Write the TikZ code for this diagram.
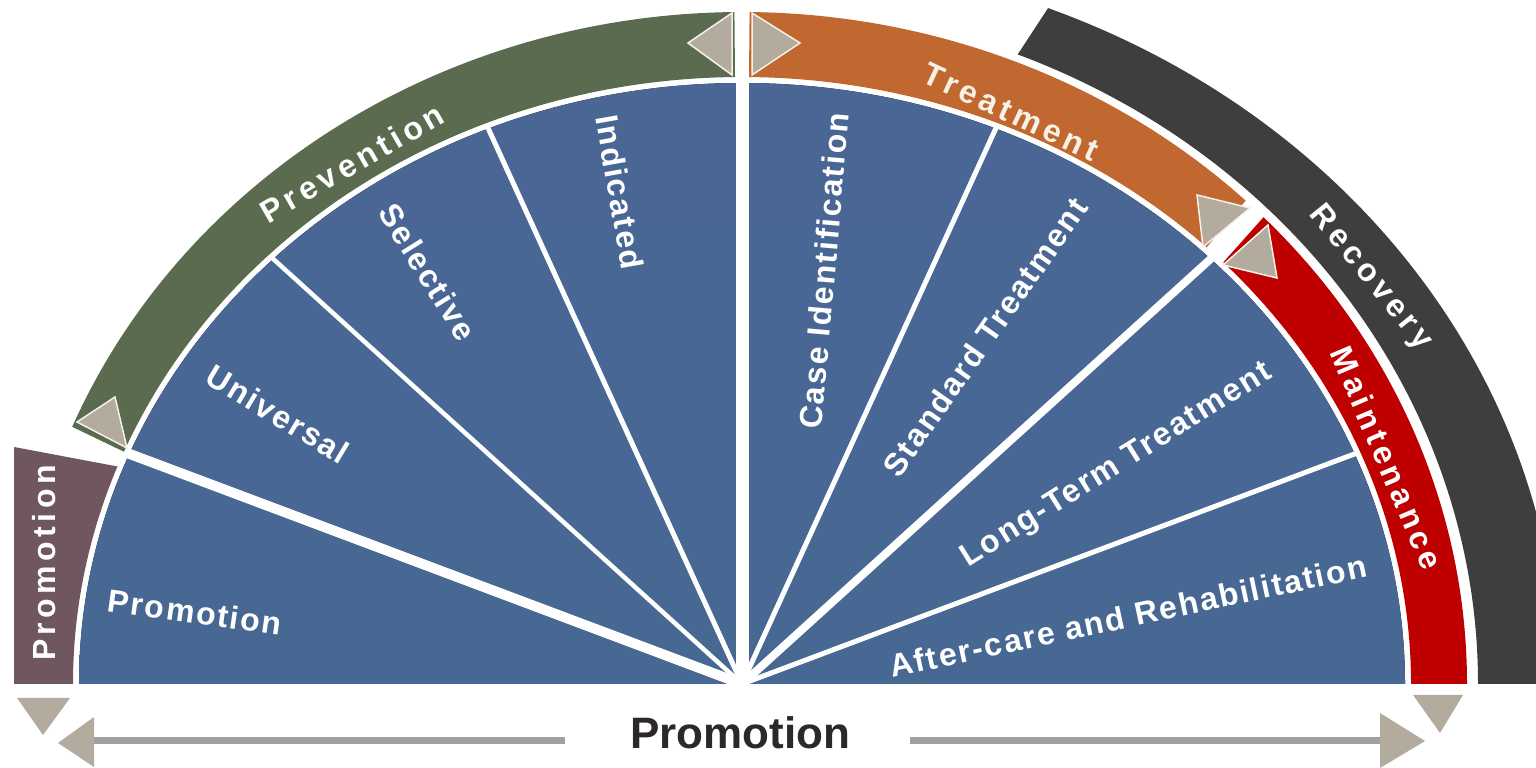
\documentclass[tikz,border=0pt]{standalone}
\usepackage{fontspec}
\setmainfont{Liberation Sans}
\newfontfamily\sectfont{Liberation Sans}[LetterSpace=6]
\newfontfamily\bandfont{Liberation Sans}[LetterSpace=14]
\definecolor{blueT}{RGB}{74,102,148}
\definecolor{blueM}{RGB}{78,118,130}
\definecolor{blueB}{RGB}{72,104,148}
\definecolor{purpleC}{RGB}{111,86,96}
\definecolor{greenC}{RGB}{90,107,80}
\definecolor{orangeC}{RGB}{193,104,48}
\definecolor{redC}{RGB}{190,0,0}
\definecolor{darkC}{RGB}{62,62,62}
\definecolor{triGray}{RGB}{178,171,158}
\definecolor{triEdge}{RGB}{246,241,231}
\definecolor{lineGray}{RGB}{160,160,158}
\definecolor{txtDark}{RGB}{45,40,40}
\begin{document}
\begin{tikzpicture}[x=1pt,y=1pt,
  sect/.style={text=white,font=\sectfont\bfseries\fontsize{32}{36}\selectfont,inner sep=0pt},
  band/.style={text=white,font=\bandfont\bfseries\fontsize{32}{36}\selectfont,inner sep=0pt},
  tri/.style={fill=triGray,draw=triEdge,line width=1.5pt,line join=miter},
  divider/.style={draw=white,line width=#1},
  baseline arrow/.style={draw=lineGray,line width=7pt}]
\useasboundingbox (0,0) rectangle (1536,768);
\begin{scope}
\clip (0,0) rectangle (1536,768);
\begin{scope}[shift={(742,84)}]
  % recovery band
  \fill[darkC] (68:817pt and 729pt) arc[start angle=68,end angle=0,x radius=817pt,y radius=729pt]
     -- (0:736pt and 679pt) arc[start angle=0,end angle=68,x radius=736pt,y radius=679pt] -- cycle;
  % blue fan
  \fill[top color=blueT,middle color=blueM,bottom color=blueB]
     (0,0) -- (180:663pt and 601pt) arc[start angle=180,end angle=0,x radius=663pt,y radius=601pt] -- cycle;
  % dividers
  \draw[divider=10pt] (0,0) -- (157.5:667pt and 605pt);
  \draw[divider=4.5pt] (0,0) -- (135:665pt and 603pt);
  \draw[divider=5pt] (0,0) -- (112.5:665pt and 603pt);
  \draw[divider=13pt] (0,0) -- (90:665pt and 603pt);
  \draw[divider=5pt] (0,0) -- (67.5:665pt and 603pt);
  \draw[divider=8pt] (0,0) -- (45:667pt and 605pt);
  \draw[divider=5pt] (0,0) -- (22.5:665pt and 603pt);
  % purple band
  \fill[purpleC] (-728,0) -- (-728,237) -- (159:669pt and 607pt)
     arc[start angle=159,end angle=180,x radius=669pt,y radius=607pt] -- cycle;
  % green band
  \fill[greenC] (157.5:725pt and 672pt) arc[start angle=157.5,end angle=90.6,x radius=725pt,y radius=672pt]
     -- (90.6:669pt and 607pt) arc[start angle=90.6,end angle=157.5,x radius=669pt,y radius=607pt] -- cycle;
  % orange band
  \fill[orangeC] (89.4:725pt and 672pt) arc[start angle=89.4,end angle=46,x radius=725pt,y radius=672pt]
     -- (46:669pt and 607pt) arc[start angle=46,end angle=89.4,x radius=669pt,y radius=607pt] -- cycle;
  % red band
  \fill[redC] (44:725pt and 672pt) arc[start angle=44,end angle=0,x radius=725pt,y radius=672pt]
     -- (0:669pt and 607pt) arc[start angle=0,end angle=44,x radius=669pt,y radius=607pt] -- cycle;
\end{scope}
% arrow triangles on the bands
\filldraw[tri] (77,346) -- (127,320) -- (115,371) -- cycle;
\filldraw[tri] (732,755) -- (732,693) -- (688,725) -- cycle;
\filldraw[tri] (752,755) -- (752,693) -- (800,725) -- cycle;
\filldraw[tri] (1197,573) -- (1250,560) -- (1203,521) -- cycle;
\filldraw[tri] (1268,543) -- (1223,503) -- (1277,490) -- cycle;
% triangles below the fan
\fill[triGray] (17,70) -- (70,70) -- (43,33) -- cycle;
\fill[triGray] (1413,73) -- (1463,73) -- (1440,35) -- cycle;
\fill[triGray] (94,51) -- (94,1) -- (58,25) -- cycle;
\fill[triGray] (1380,55) -- (1380,0) -- (1425,27) -- cycle;
% bottom arrow lines
\coordinate (la) at (94,27);
\coordinate (lb) at (565,27);
\coordinate (ra) at (910,27);
\coordinate (rb) at (1380,27);
\draw[baseline arrow] (la) -- (lb);
\draw[baseline arrow] (ra) -- (rb);
\node[font=\bfseries\fontsize{44}{50}\selectfont,text=txtDark,inner sep=0pt] (pbot) at (740,35) {Promotion};
% sector labels
\node[sect,rotate=-8] (s1) at (195,156) {Promotion};
\node[sect,rotate=-31] (s2) at (278,354) {Universal};
\node[sect,rotate=-58] (s3) at (428,496) {Selective};
\node[sect,rotate=-80] (s4) at (620,576) {Indicated};
\node[sect,rotate=85] (s5) at (824,497) {Case Identification};
\node[sect,rotate=55] (s6) at (985,431) {Standard Treatment};
\node[sect,rotate=32] (s7) at (1117,302) {Long-Term Treatment};
\node[sect,rotate=12] (s8) at (1128,152) {After-care and Rehabilitation};
% band labels
\node[band,rotate=90] (b1) at (44,205) {Promotion};
\node[band,rotate=30] (b2) at (352,605) {Prevention};
\node[band,rotate=-25,text=triEdge] (b3) at (1011,656) {Treatment};
\node[band,rotate=-51] (b4) at (1370,490) {Recovery};
\node[band,rotate=-67] (b5) at (1387,310) {Maintenance};
\end{scope}
\end{tikzpicture}
\end{document}
